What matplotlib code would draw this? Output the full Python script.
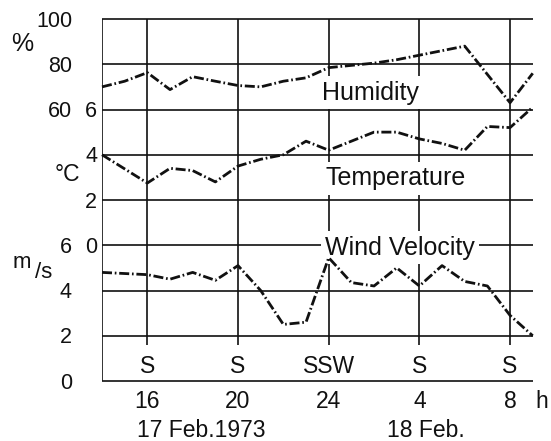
import matplotlib
matplotlib.use('Agg')
import matplotlib.pyplot as plt

plt.rcParams['font.family'] = ['Liberation Sans', 'DejaVu Sans']

# ---------------- data ----------------
hum_hours = [14, 15, 16, 17, 18, 19, 20, 21, 22, 23, 24, 25, 26, 27, 28, 29, 30, 32, 33]
humidity = [70, 72.5, 76.3, 68.8, 74.5, 72.5, 70.6, 70, 72.5, 74, 78.5, 79.5, 80.5, 82, 84, 86, 88, 63, 76]

temp_hours = [14, 16, 17, 18, 19, 20, 21, 22, 23, 24, 25, 26, 27, 28, 29, 30, 31, 32, 33]
temperature = [4.0, 2.75, 3.4, 3.3, 2.8, 3.5, 3.8, 4.0, 4.6, 4.2, 4.6, 5.0, 5.0, 4.7, 4.5, 4.2, 5.25, 5.2, 6.1]

wind_hours = [14, 16, 17, 18, 19, 20, 21, 22, 23, 24, 25, 26, 27, 28, 29, 30, 31, 32, 33]
wind = [4.8, 4.7, 4.5, 4.8, 4.45, 5.1, 4.0, 2.5, 2.6, 5.45, 4.35, 4.2, 5.0, 4.2, 5.1, 4.4, 4.2, 2.9, 2.0]

tick_hours = [16, 20, 24, 28, 32]
tick_labels = ['16', '20', '24', '4', '8']
wind_dirs = ['S', 'S', 'SSW', 'S', 'S']

hum_ticks = [60, 80, 100]
temp_ticks = [0, 2, 4, 6]
wind_ticks = [0, 2, 4, 6]

# ---------------- scale conversion to common grid units ----------------
def hum_u(h):
    return 6 + (h - 60) / 20.0

def temp_u(t):
    return 3 + t / 2.0

def wind_u(w):
    return w / 2.0

W, H = 551, 441
fig = plt.figure(figsize=(W / 100, H / 100), dpi=100)
px_per_h = 22.67
ax = fig.add_axes([102 / W, (H - 381) / H, 435 / W, 362 / H])
ax.set_xlim(14, 14 + 435 / px_per_h)
ax.set_ylim(0, 8)
ax.axis('off')

ink = '#111111'
grid_lw = 1.2

# grid
ax.hlines(range(9), 14, 33.0, color=ink, lw=grid_lw, zorder=1, clip_on=False)
ax.vlines(14, 0, 8, color=ink, lw=grid_lw, zorder=1)
ax.vlines(tick_hours, 0.8, 8, color=ink, lw=grid_lw, zorder=1)

# series
ls = (0, (3.6, 1.0, 0.6, 1.0))
for hrs, vals, conv in ((hum_hours, humidity, hum_u),
                        (temp_hours, temperature, temp_u),
                        (wind_hours, wind, wind_u)):
    ax.plot(hrs, [conv(v) for v in vals], color=ink, lw=2.0, ls=ls,
            zorder=4, clip_on=False, dash_capstyle='butt')

# series names (white box breaks grid lines)
bbox = dict(boxstyle='square,pad=0.18', fc='white', ec='none')
name_fs = 18
ax.text(23.70, 6.21, 'Humidity', fontsize=name_fs, ha='left', va='baseline',
        bbox=bbox, zorder=3, color=ink)
ax.text(23.84, 4.33, 'Temperature', fontsize=name_fs, ha='left', va='baseline',
        bbox=bbox, zorder=3, color=ink)
ax.text(23.84, 2.785, 'Wind Velocity', fontsize=name_fs, ha='left', va='baseline',
        bbox=bbox, zorder=3, color=ink)

# wind direction labels
for hx, d in zip(tick_hours, wind_dirs):
    ax.text(hx, 0.177, d, fontsize=16.5, ha='center', va='baseline', color=ink, zorder=3)

# y labels: two columns
ytr = ax.get_yaxis_transform()
colA = (72 - 102) / 435.0
colB = (97 - 102) / 435.0
off = 0.166
lab_fs = 15.5
for v in hum_ticks:
    ax.text(colA, hum_u(v) - off, str(v), transform=ytr, ha='right', va='baseline',
            fontsize=lab_fs, color=ink, clip_on=False)
for v in wind_ticks:
    ax.text(colA, wind_u(v) - off, str(v), transform=ytr, ha='right', va='baseline',
            fontsize=lab_fs, color=ink, clip_on=False)
for v in temp_ticks:
    ax.text(colB, temp_u(v) - off, str(v), transform=ytr, ha='right', va='baseline',
            fontsize=lab_fs, color=ink, clip_on=False)

# x labels
xtr = ax.get_xaxis_transform()
yb1 = (381 - 408) / 362.0
yb2 = (381 - 437) / 362.0
xfs = 16.5
for hx, lab in zip(tick_hours, tick_labels):
    ax.text(hx, yb1, lab, transform=xtr, ha='center', va='baseline', fontsize=xfs,
            color=ink, clip_on=False)
ax.text(14 + (542 - 102) / px_per_h, yb1, 'h', transform=xtr, ha='center', va='baseline',
        fontsize=xfs, color=ink, clip_on=False)
ax.text(14 + (137 - 102) / px_per_h, yb2, '17 Feb.1973', transform=xtr, ha='left',
        va='baseline', fontsize=xfs, color=ink, clip_on=False)
ax.text(14 + (387 - 102) / px_per_h, yb2, '18 Feb.', transform=xtr, ha='left',
        va='baseline', fontsize=xfs, color=ink, clip_on=False)

# unit labels
def fpx(x, y):
    return x / W, 1 - y / H

fig.text(*fpx(22, 44), '%', fontsize=18, ha='center', va='center', color=ink)
fig.text(*fpx(67, 175), '°C', fontsize=16.5, ha='center', va='center', color=ink)
fig.text(*fpx(22, 263), 'm', fontsize=16, ha='center', va='center', color=ink)
fig.text(*fpx(44, 273), '/s', fontsize=16, ha='center', va='center', color=ink)

fig.savefig('out.png', dpi=100, facecolor='white')
